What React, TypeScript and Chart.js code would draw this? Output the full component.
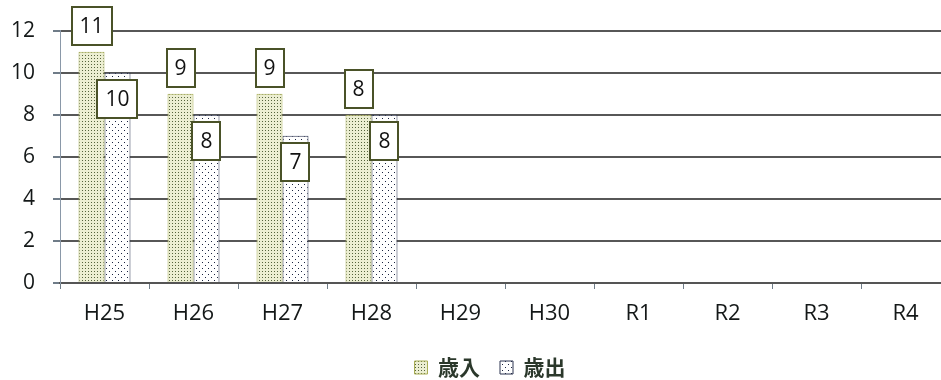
import React, { useEffect, useRef } from "react";
import { Chart, registerables } from "chart.js";

Chart.register(...registerables);

// Fiscal years on the category axis
const categories = ["H25", "H26", "H27", "H28", "H29", "H30", "R1", "R2", "R3", "R4"];
// 歳入 (revenue) and 歳出 (expenditure); later years not yet reported
const revenue: (number | null)[] = [11, 9, 9, 8, null, null, null, null, null, null];
const expenditure: (number | null)[] = [10, 8, 7, 8, null, null, null, null, null, null];
const seriesNames = ["歳入", "歳出"];
// Value axis range
const yMin = 0;
const yMax = 12;
const yStep = 2;

// Small tiled canvas used as a dotted fill
function makePattern(
  size: number,
  bg: string,
  dotColor: string,
  dots: [number, number][],
  dot = 1
): CanvasPattern | string {
  const c = document.createElement("canvas");
  c.width = size;
  c.height = size;
  const g = c.getContext("2d");
  if (!g) return bg;
  g.fillStyle = bg;
  g.fillRect(0, 0, size, size);
  g.fillStyle = dotColor;
  dots.forEach(([x, y]) => g.fillRect(x, y, dot, dot));
  return g.createPattern(c, "repeat") || bg;
}

// Boxed value labels: first series above the bar, second series just inside its top
const boxLabels = {
  id: "boxLabels",
  afterDatasetsDraw(chart: Chart) {
    const ctx = chart.ctx;
    ctx.save();
    ctx.font = '21px "Open Sans"';
    ctx.textAlign = "center";
    ctx.textBaseline = "middle";
    chart.data.datasets.forEach((ds, di) => {
      const meta = chart.getDatasetMeta(di);
      meta.data.forEach((bar: any, i: number) => {
        const v = ds.data[i] as number | null;
        if (v == null) return;
        const text = String(v);
        const w = Math.round(ctx.measureText(text).width + 16);
        const h = 38;
        const x = Math.round(bar.x - w / 2);
        const y = Math.round(di === 0 ? bar.y - 7 - h : bar.y + 7);
        ctx.fillStyle = "#ffffff";
        ctx.fillRect(x, y, w, h);
        ctx.strokeStyle = "#4a5228";
        ctx.lineWidth = 2;
        ctx.strokeRect(x, y, w, h);
        ctx.fillStyle = "#111111";
        ctx.fillText(text, bar.x, y + h / 2 + 1);
      });
    });
    ctx.restore();
  },
};

export default function App() {
  const ref = useRef<HTMLCanvasElement | null>(null);

  useEffect(() => {
    if (!ref.current) return;
    const revenueFill = makePattern(3, "#eceed2", "#55633c", [[1, 1]]);
    const expenditureFill = makePattern(6, "#ffffff", "#1a2340", [[1, 1], [4, 4]]);

    const chart = new Chart(ref.current, {
      type: "bar",
      data: {
        labels: categories,
        datasets: [
          {
            label: seriesNames[0],
            data: revenue,
            backgroundColor: revenueFill as any,
            borderColor: "#a9ae55",
            borderWidth: 1,
            categoryPercentage: 0.584,
            barPercentage: 1,
          },
          {
            label: seriesNames[1],
            data: expenditure,
            backgroundColor: expenditureFill as any,
            borderColor: "#2d3550",
            borderWidth: 1,
            categoryPercentage: 0.584,
            barPercentage: 1,
          },
        ],
      },
      options: {
        responsive: false,
        animation: false,
        layout: { padding: { top: 23, left: 0, right: 0, bottom: 0 } },
        plugins: {
          tooltip: { enabled: false },
          legend: {
            position: "bottom",
            maxHeight: 43,
            labels: {
              boxWidth: 13,
              boxHeight: 13,
              padding: 20,
              color: "#2b382b",
              font: { family: '"Noto Sans CJK JP"', size: 21, weight: "bold" },
            },
          },
        },
        scales: {
          x: {
            offset: true,
            grid: {
              display: true,
              drawOnChartArea: false,
              drawTicks: true,
              tickLength: 6,
              tickColor: "#6f7c88",
              offset: true,
            },
            border: { display: true, color: "#555555", width: 2 },
            ticks: {
              color: "#141818",
              padding: 12,
              maxRotation: 0,
              font: { family: '"Open Sans"', size: 22 },
            },
            afterFit: (s: any) => {
              s.height = 54;
            },
          },
          y: {
            min: yMin,
            max: yMax,
            ticks: {
              stepSize: yStep,
              color: "#141818",
              padding: 18,
              font: { family: '"Open Sans"', size: 21 },
            },
            grid: {
              color: "#575757",
              lineWidth: 2,
              tickLength: 7,
              tickColor: "#6f7c88",
            },
            border: { display: true, color: "#8a98a8", width: 1 },
            afterFit: (s: any) => {
              s.width = 60;
            },
          },
          spare: {
            type: "linear",
            position: "right",
            display: true,
            grid: { display: false },
            border: { display: false },
            ticks: { display: false },
            afterFit: (s: any) => {
              s.width = 30;
            },
          },
        },
      },
      plugins: [boxLabels],
    });
    return () => chart.destroy();
  }, []);

  return (
    <div
      style={{
        position: "absolute",
        left: 0,
        top: 0,
        width: 941,
        height: 380,
        overflow: "hidden",
        background: "#ffffff",
      }}
    >
      <canvas ref={ref} width={980} height={380} style={{ display: "block" }} />
    </div>
  );
}
